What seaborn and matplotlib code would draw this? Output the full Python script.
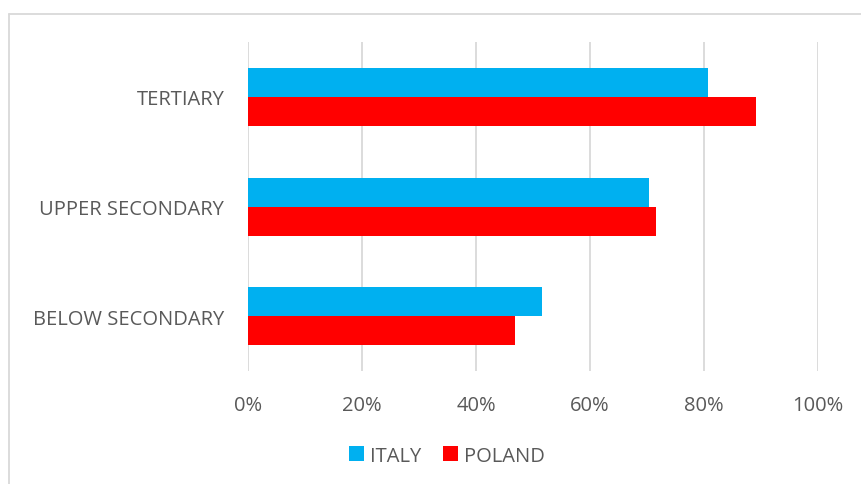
import pandas as pd
import matplotlib.pyplot as plt
import matplotlib.lines as mlines
import seaborn as sns

# Data
levels = ['TERTIARY', 'UPPER SECONDARY', 'BELOW SECONDARY']
italy = [80.7, 70.4, 51.6]
poland = [89.1, 71.6, 46.8]
countries = ['ITALY', 'POLAND']
palette = {'ITALY': '#00B0F0', 'POLAND': '#FF0000'}
xticks = [0, 20, 40, 60, 80, 100]

df = pd.DataFrame({
    'level': levels * 2,
    'value': italy + poland,
    'country': ['ITALY'] * len(levels) + ['POLAND'] * len(levels),
})

sns.set_style('white')
plt.rcParams['font.family'] = ['Open Sans', 'DejaVu Sans']
TEXT_COLOR = '#595959'
FS = 14.5

fig = plt.figure(figsize=(8.61, 4.85), dpi=100)
ax = fig.add_axes([0.288, 0.233, 0.662, 0.678])

sns.barplot(data=df, x='value', y='level', hue='country', order=levels,
            hue_order=countries, palette=palette, width=0.53, orient='h',
            saturation=1, linewidth=0, ax=ax, legend=True)

ax.set_xlim(0, 100)
ax.set_ylim(2.5, -0.5)
ax.set_xticks(xticks)
ax.set_xticklabels([f'{t}%' for t in xticks], fontsize=FS, color=TEXT_COLOR)
ax.tick_params(axis='y', labelsize=FS, labelcolor=TEXT_COLOR, length=0, pad=17)
ax.tick_params(axis='x', length=0, pad=17)
ax.set_xlabel('')
ax.set_ylabel('')
ax.grid(axis='x', color='#D9D9D9', linewidth=1.3)
ax.set_axisbelow(True)
for s in ax.spines.values():
    s.set_visible(False)

handles, labels = ax.get_legend_handles_labels()
ax.legend_.remove()
fig.legend(handles, labels, loc='center', bbox_to_anchor=(0.519, 0.058),
           ncol=2, frameon=False, fontsize=FS, handlelength=0.75,
           handleheight=0.75, handletextpad=0.3, columnspacing=1.1,
           labelcolor=TEXT_COLOR)

# outer chart frame (cropped at right and bottom)
fig.add_artist(mlines.Line2D([0.011, 1.0], [0.969, 0.969], color='#D9D9D9',
                             linewidth=1.3, transform=fig.transFigure))
fig.add_artist(mlines.Line2D([0.011, 0.011], [0.0, 0.969], color='#D9D9D9',
                             linewidth=1.3, transform=fig.transFigure))

fig.savefig('out.png', dpi=100)
